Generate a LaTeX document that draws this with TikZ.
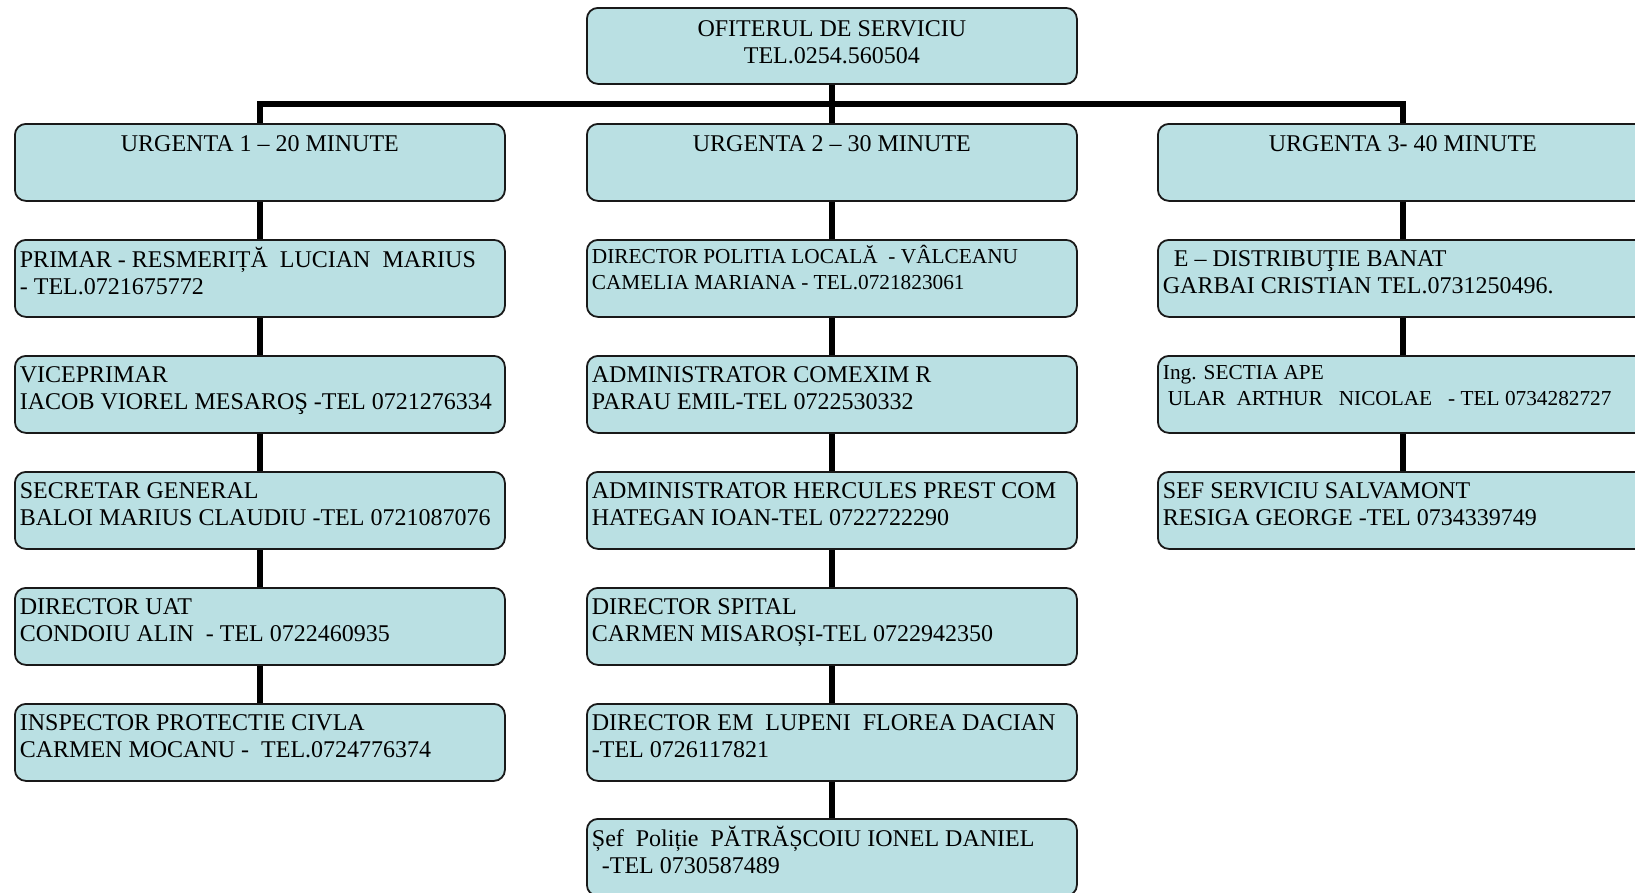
\documentclass[tikz,border=0pt]{standalone}
\usepackage{fontspec}
\setmainfont{Liberation Serif}
\definecolor{boxc}{HTML}{BAE0E3}
\pgfdeclarelayer{bg}\pgfsetlayers{bg,main}
\newcommand\rowbox[1]{\parbox[c][77pt][t]{480pt}{\raggedright\fontsize{24}{27}\selectfont\vspace*{7.5pt}\strut #1}}
\newcommand\smlbox[1]{\parbox[c][77pt][t]{480pt}{\raggedright\fontsize{21.3}{26}\selectfont\vspace*{5pt}\strut #1}}
\newcommand\ctrbox[3]{\parbox[c][#1][t]{480pt}{\centering\fontsize{24}{27}\selectfont\vspace*{#2}\strut #3}}
\tikzset{
  box/.style={draw=black!90, line width=1.8pt, fill=boxc, rounded corners=11pt,
    inner xsep=5pt, inner ysep=0pt, anchor=north west},
  stem/.style={draw=black, line width=5.5pt, line join=miter}
}
\begin{document}
\begin{tikzpicture}[x=1pt,y=-1pt]
\clip (0,0) rectangle (1635,892);
% top
\node[box] (top) at (586,7) {\ctrbox{76pt}{10pt}{OFITERUL DE SERVICIU\\TEL.0254.560504}};
% urgenta boxes
\node[box] (u1) at (14,123) {\ctrbox{77pt}{9pt}{URGENTA 1 – 20 MINUTE}};
\node[box] (u2) at (586,123) {\ctrbox{77pt}{9pt}{URGENTA 2 – 30 MINUTE}};
\node[box] (u3) at (1157,123) {\ctrbox{77pt}{9pt}{URGENTA 3- 40 MINUTE}};
% column 1
\node[box] (a1) at (14,239) {\rowbox{PRIMAR - RESMERIȚĂ\ \ LUCIAN\ \ MARIUS\\- TEL.0721675772}};
\node[box] (a2) at (14,355) {\rowbox{VICEPRIMAR\\IACOB VIOREL MESAROŞ -TEL 0721276334}};
\node[box] (a3) at (14,471) {\rowbox{SECRETAR GENERAL\\BALOI MARIUS CLAUDIU -TEL 0721087076}};
\node[box] (a4) at (14,587) {\rowbox{DIRECTOR UAT\\CONDOIU ALIN\ \ - TEL 0722460935}};
\node[box] (a5) at (14,703) {\rowbox{INSPECTOR PROTECTIE CIVLA\\CARMEN MOCANU -\ \ TEL.0724776374}};
% column 2
\node[box] (b1) at (586,239) {\smlbox{DIRECTOR POLITIA LOCALĂ\ \ - VÂLCEANU\\CAMELIA MARIANA - TEL.0721823061}};
\node[box] (b2) at (586,355) {\rowbox{ADMINISTRATOR COMEXIM R\\PARAU EMIL-TEL 0722530332}};
\node[box] (b3) at (586,471) {\rowbox{ADMINISTRATOR HERCULES PREST COM\\HATEGAN IOAN-TEL 0722722290}};
\node[box] (b4) at (586,587) {\rowbox{DIRECTOR SPITAL\\CARMEN MISAROȘI-TEL 0722942350}};
\node[box] (b5) at (586,703) {\rowbox{DIRECTOR EM\ \ LUPENI\ \ FLOREA DACIAN\\-TEL 0726117821}};
\node[box] (b6) at (586,818) {\rowbox{Șef\ \ Poliție\ \ PĂTRĂȘCOIU IONEL DANIEL\\\hspace*{10pt}-TEL 0730587489}};
% column 3
\node[box] (c1) at (1157,239) {\rowbox{\hspace*{11pt}E – DISTRIBUŢIE BANAT\\GARBAI CRISTIAN TEL.0731250496.}};
\node[box] (c2) at (1157,355) {\smlbox{Ing. SECTIA APE\\\hspace*{5pt}ULAR\ \ ARTHUR\ \ \ NICOLAE\ \ \ - TEL 0734282727}};
\node[box] (c3) at (1157,471) {\rowbox{SEF SERVICIU SALVAMONT\\RESIGA GEORGE -TEL 0734339749}};
\coordinate (bar) at (830.5,104);
\begin{pgfonlayer}{bg}
\draw[stem] (top.south) -- (u2.north);
\draw[stem] (u1.north) |- (bar) -| (u3.north);
\draw[stem] (u1.south) -- (a1.north);
\draw[stem] (a1.south) -- (a2.north);
\draw[stem] (a2.south) -- (a3.north);
\draw[stem] (a3.south) -- (a4.north);
\draw[stem] (a4.south) -- (a5.north);
\draw[stem] (u2.south) -- (b1.north);
\draw[stem] (b1.south) -- (b2.north);
\draw[stem] (b2.south) -- (b3.north);
\draw[stem] (b3.south) -- (b4.north);
\draw[stem] (b4.south) -- (b5.north);
\draw[stem] (b5.south) -- (b6.north);
\draw[stem] (u3.south) -- (c1.north);
\draw[stem] (c1.south) -- (c2.north);
\draw[stem] (c2.south) -- (c3.north);
\end{pgfonlayer}
\end{tikzpicture}
\end{document}
